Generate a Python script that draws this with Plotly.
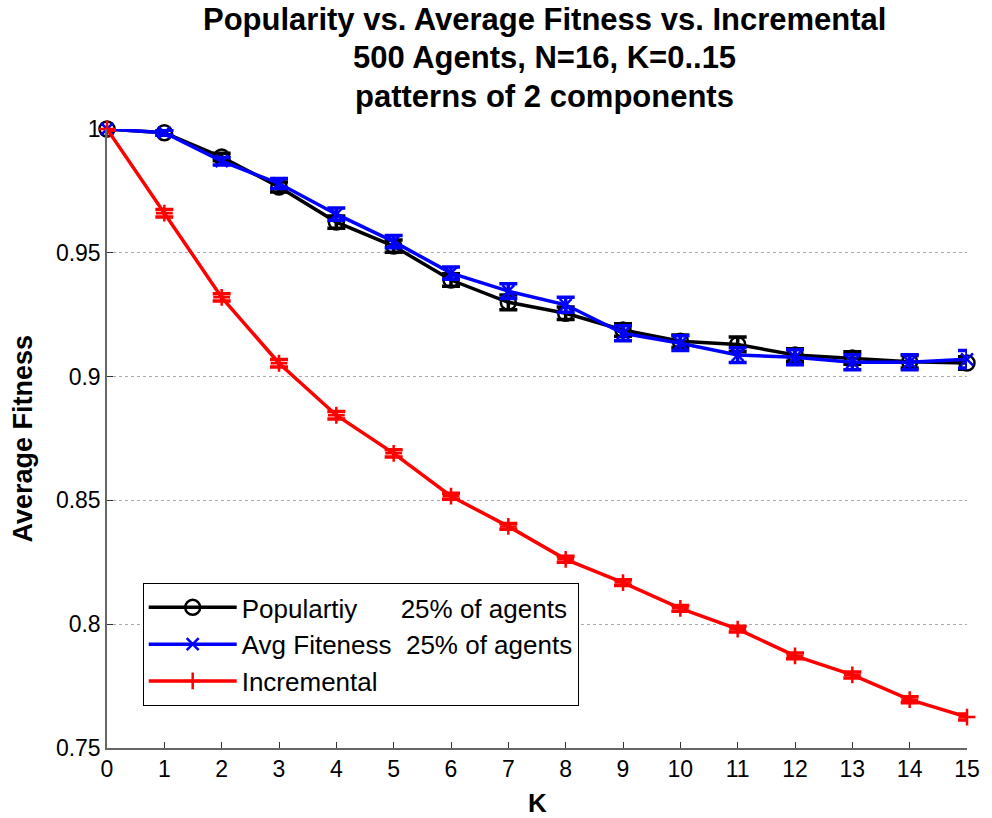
import plotly.graph_objects as go

K = list(range(16))
popularity = [1.0, 0.9985, 0.9887, 0.9766, 0.9624, 0.9527, 0.9390, 0.9300, 0.9256, 0.9188, 0.9143, 0.9130, 0.9087, 0.9075, 0.9060, 0.9055]
popularity_err = [0.0005, 0.0010, 0.0015, 0.0020, 0.0025, 0.0025, 0.0025, 0.0030, 0.0025, 0.0025, 0.0025, 0.0030, 0.0025, 0.0025, 0.0025, 0.0025]
avg_fitness = [1.0, 0.9985, 0.9870, 0.9780, 0.9656, 0.9545, 0.9418, 0.9345, 0.9290, 0.9175, 0.9135, 0.9087, 0.9078, 0.9058, 0.9058, 0.9070]
avg_fitness_err = [0.0005, 0.0010, 0.0015, 0.0020, 0.0025, 0.0025, 0.0025, 0.0030, 0.0030, 0.0030, 0.0030, 0.0030, 0.0030, 0.0030, 0.0030, 0.0035]
incremental = [1.0, 0.9660, 0.9320, 0.9054, 0.8844, 0.8690, 0.8517, 0.8395, 0.8262, 0.8168, 0.8064, 0.7980, 0.7872, 0.7795, 0.7695, 0.7625]
incremental_err = [0.0005, 0.0015, 0.0015, 0.0015, 0.0015, 0.0015, 0.0012, 0.0012, 0.0012, 0.0012, 0.0012, 0.0012, 0.0012, 0.0012, 0.0012, 0.0012]

title_lines = ["Popularity vs. Average Fitness vs. Incremental", "500 Agents, N=16, K=0..15", "patterns of 2 components"]
names = ["Populartiy\u00a0\u00a0\u00a0\u00a0\u00a0\u00a025% of agents",
         "Avg Fiteness\u00a0\u00a025% of agents",
         "Incremental"]
y_ticks = [0.75, 0.8, 0.85, 0.9, 0.95, 1.0]
y_ticklabels = ["0.75", "0.8", "0.85", "0.9", "0.95", "1"]

FONT = "Liberation Sans, Arial, sans-serif"

fig = go.Figure()
fig.add_trace(go.Scatter(
    x=K, y=popularity, name=names[0], mode="lines+markers",
    line=dict(color="black", width=3.5),
    marker=dict(symbol="circle-open", size=15, color="black", line=dict(width=2.5)),
    error_y=dict(type="data", array=popularity_err, color="black", thickness=3.5, width=9),
    cliponaxis=False,
))
fig.add_trace(go.Scatter(
    x=K, y=avg_fitness, name=names[1], mode="lines+markers",
    line=dict(color="#0000ff", width=3.5),
    marker=dict(symbol="x-thin", size=12, color="#0000ff", line=dict(width=2.5, color="#0000ff")),
    error_y=dict(type="data", array=avg_fitness_err, color="#0000ff", thickness=3.5, width=9),
    cliponaxis=False,
))
fig.add_trace(go.Scatter(
    x=K, y=incremental, name=names[2], mode="lines+markers",
    line=dict(color="#ff0000", width=3.5),
    marker=dict(symbol="cross-thin", size=12, color="#ff0000", line=dict(width=2.5, color="#ff0000")),
    error_y=dict(type="data", array=incremental_err, color="#ff0000", thickness=3.5, width=9),
    cliponaxis=False,
))

annotations = []
for i, t in enumerate(title_lines):
    annotations.append(dict(
        text="<b>%s</b>" % t, xref="paper", yref="paper", x=0.5, y=1.0,
        xshift=7, yshift=[110, 72, 33][i], xanchor="center", yanchor="middle", showarrow=False,
        font=dict(family=FONT, size=31, color="black"),
    ))
annotations.append(dict(
    text="<b>Average Fitness</b>", xref="paper", yref="paper", x=0, y=0.5, xshift=-85,
    textangle=-90, xanchor="center", yanchor="middle", showarrow=False,
    font=dict(family=FONT, size=27, color="black"),
))
annotations.append(dict(
    text="<b>K</b>", xref="paper", yref="paper", x=0.5, y=0, yshift=-55,
    xanchor="center", yanchor="middle", showarrow=False,
    font=dict(family=FONT, size=26, color="black"),
))

fig.update_layout(
    width=992, height=818,
    margin=dict(l=107, r=17, t=129, b=70),
    paper_bgcolor="white", plot_bgcolor="white",
    font=dict(family=FONT, size=23, color="black"),
    annotations=annotations,
    showlegend=True,
    legend=dict(
        x=0.0415, y=0.2666, xanchor="left", yanchor="top",
        bgcolor="white", bordercolor="black", borderwidth=1,
        font=dict(family=FONT, size=26, color="black"),
        itemwidth=88, tracegroupgap=0,
    ),
    xaxis=dict(
        range=[0, 15], tickmode="array", tickvals=K, ticktext=[str(k) for k in K],
        ticks="inside", ticklen=6, tickcolor="#333", showline=True, linecolor="#666", linewidth=1.5,
        showgrid=False, zeroline=False, mirror=False,
        tickfont=dict(family=FONT, size=23, color="black"),
    ),
    yaxis=dict(
        range=[0.75, 1.0], tickmode="array", tickvals=y_ticks, ticktext=y_ticklabels,
        ticks="inside", ticklen=6, tickcolor="#333", showline=True, linecolor="#666", linewidth=1.5,
        showgrid=True, gridcolor="#aaaaaa", griddash="dot", gridwidth=1,
        zeroline=False, mirror=False,
        tickfont=dict(family=FONT, size=23, color="black"),
    ),
)

fig.write_html("out.html")
